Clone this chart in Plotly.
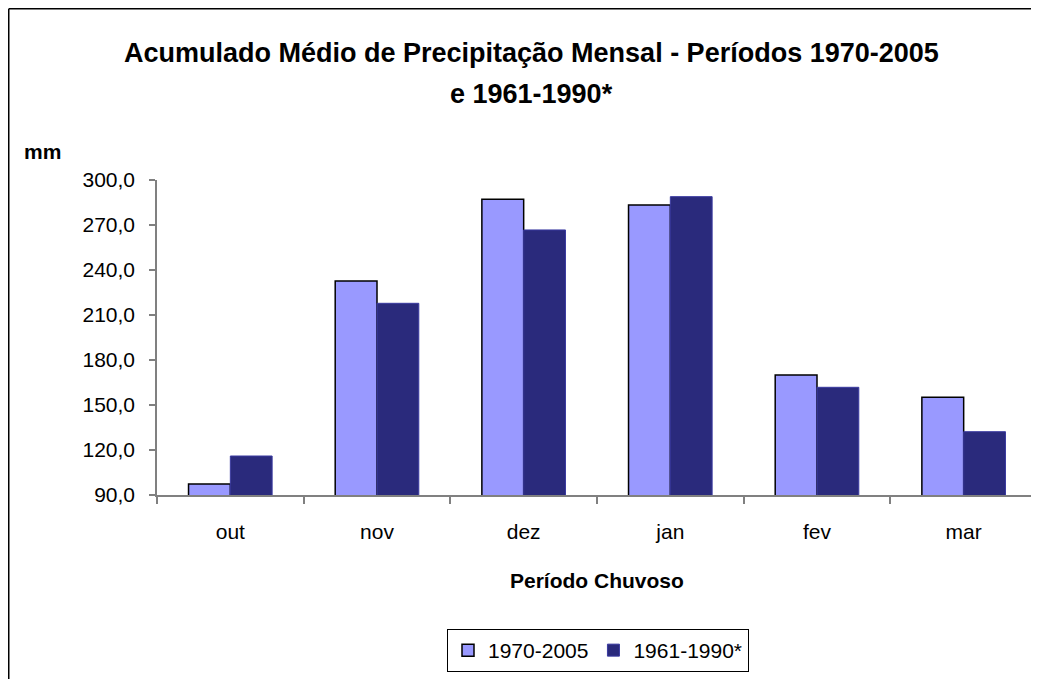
import plotly.graph_objects as go

categories = ["out", "nov", "dez", "jan", "fev", "mar"]
series_1970_2005 = [97.3, 232.7, 287.1, 283.3, 170.0, 155.1]
series_1961_1990 = [116.0, 217.8, 266.7, 288.9, 161.8, 132.2]
series_names = ["1970-2005", "1961-1990*"]
y_ticks = [90, 120, 150, 180, 210, 240, 270, 300]

# page offset of the figure (body margin)
OFF = 8
W, H = 1039 - OFF, 679 - OFF
L, T = 157 - OFF, 180 - OFF
R = W - (1037 - OFF)
B = H - (495 - OFF)
pw, ph = W - L - R, H - T - B


def px(x):
    return (x - OFF - L) / pw


def py(y):
    return (H - B - (y - OFF)) / ph


fig = go.Figure()
fig.add_trace(go.Bar(
    x=categories, y=series_1970_2005, name=series_names[0],
    marker=dict(color="#9999FF", line=dict(color="#000000", width=1.5)),
))
fig.add_trace(go.Bar(
    x=categories, y=series_1961_1990, name=series_names[1],
    marker=dict(color="#2A2A7C", line=dict(color="#3A3AA0", width=1)),
))

font_family = "Liberation Sans, Arial, sans-serif"

fig.update_layout(
    width=W, height=H,
    margin=dict(l=L, r=R, t=T, b=B, autoexpand=False),
    paper_bgcolor="white", plot_bgcolor="white",
    barmode="group", bargap=0.43, bargroupgap=0,
    separators=", ",
    font=dict(family=font_family, color="#000000", size=21),
    showlegend=True,
    legend=dict(
        orientation="h", x=px(447), y=py(629), xanchor="left", yanchor="top",
        bordercolor="#000000", borderwidth=1, bgcolor="white",
        font=dict(size=21, family=font_family),
        itemwidth=30, tracegroupgap=0,
    ),
    xaxis=dict(
        showline=True, linecolor="#808080", linewidth=1.5,
        ticks="outside", ticklen=7, tickcolor="#808080", tickwidth=1.5,
        tickson="boundaries", showgrid=False, zeroline=False,
        tickfont=dict(size=21), ticklabelstandoff=17,
    ),
    yaxis=dict(
        range=[90, 300], tickvals=y_ticks, tickformat=".1f",
        showline=True, linecolor="#808080", linewidth=1.5,
        ticks="outside", ticklen=6, tickcolor="#808080", tickwidth=1.5,
        showgrid=False, zeroline=False,
        tickfont=dict(size=21), ticklabelstandoff=10,
    ),
    annotations=[
        dict(text="<b>Acumulado Médio de Precipitação Mensal - Períodos 1970-2005</b>",
             xref="paper", yref="paper", x=px(531), y=py(53), xanchor="center", yanchor="middle",
             showarrow=False, font=dict(size=27, family=font_family)),
        dict(text="<b>e 1961-1990*</b>",
             xref="paper", yref="paper", x=px(531), y=py(94), xanchor="center", yanchor="middle",
             showarrow=False, font=dict(size=27, family=font_family)),
        dict(text="<b>mm</b>", xref="paper", yref="paper", x=px(22), y=py(151),
             xanchor="left", yanchor="middle", showarrow=False, font=dict(size=21)),
        dict(text="<b>Período Chuvoso</b>", xref="paper", yref="paper", x=px(597), y=py(580),
             xanchor="center", yanchor="middle", showarrow=False, font=dict(size=21)),
    ],
    shapes=[
        # chart-area border (top and left edges are the visible ones)
        dict(type="line", xref="paper", yref="paper", x0=px(8.75), x1=px(1060), y0=py(8.75), y1=py(8.75),
             line=dict(color="#000000", width=1.5), layer="below"),
        dict(type="line", xref="paper", yref="paper", x0=px(8.75), x1=px(8.75), y0=py(8.75), y1=py(700),
             line=dict(color="#000000", width=1.5), layer="below"),
    ],
)

fig.write_html("out.html", post_script="document.body.style.overflow='hidden';")
